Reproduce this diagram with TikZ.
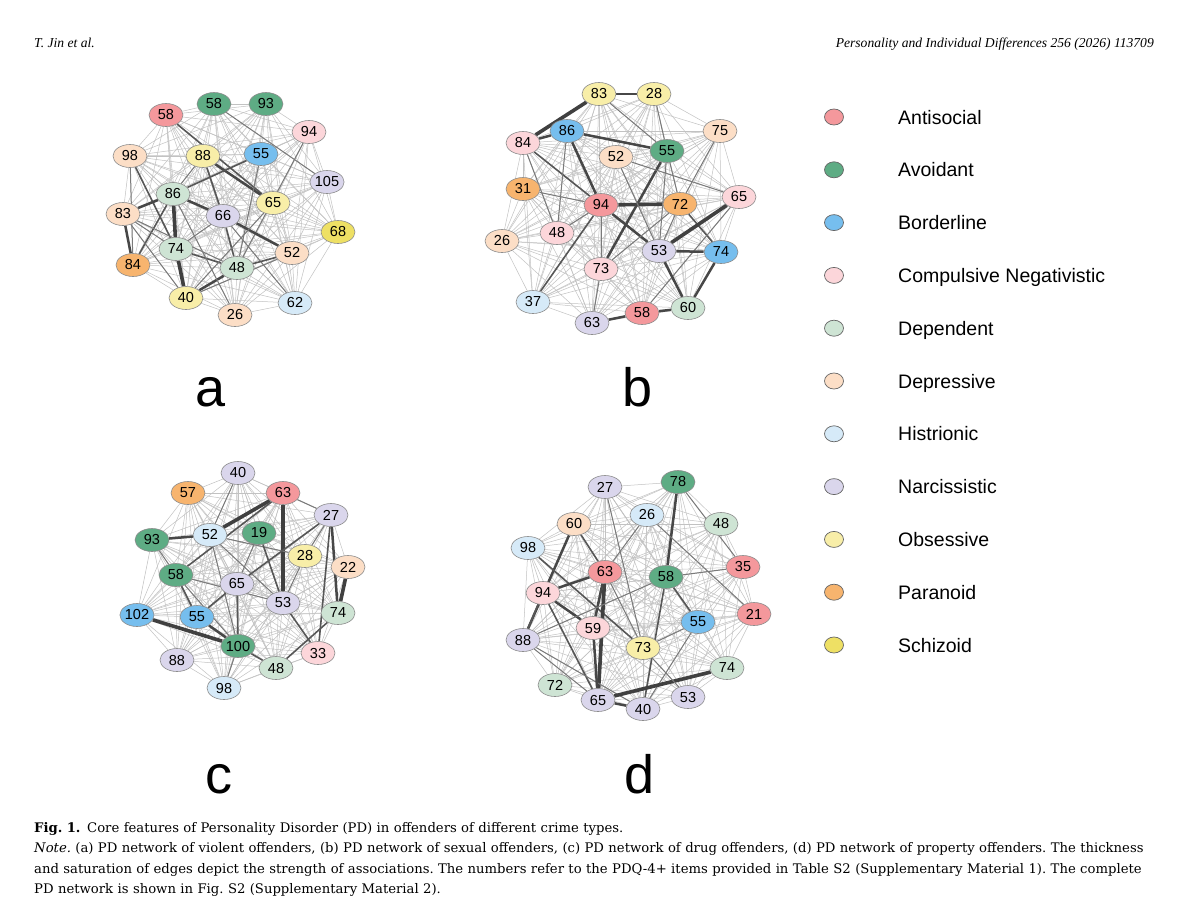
\documentclass[tikz,border=0pt]{standalone}
\usepackage{fontspec}
\setmainfont{DejaVu Serif}
\newfontfamily\arial{Liberation Sans}
\newfontfamily\hdrfont{Liberation Serif}
\usetikzlibrary{shapes.geometric}
\pgfdeclarelayer{bg}
\pgfsetlayers{bg,main}
\definecolor{cAnti}{RGB}{244,152,156}
\definecolor{cAvoi}{RGB}{94,172,132}
\definecolor{cBord}{RGB}{118,190,238}
\definecolor{cComp}{RGB}{252,214,218}
\definecolor{cDepe}{RGB}{206,228,212}
\definecolor{cDepr}{RGB}{252,222,198}
\definecolor{cHist}{RGB}{214,234,248}
\definecolor{cNarc}{RGB}{218,214,236}
\definecolor{cObse}{RGB}{248,238,168}
\definecolor{cPara}{RGB}{247,180,110}
\definecolor{cSchi}{RGB}{238,224,100}
\tikzset{
  pd/.style={ellipse, draw=black!45, line width=0.6pt, minimum width=34pt, minimum height=23pt, inner sep=0pt, font=\arial\fontsize{14.5}{14.5}\selectfont},
  faint/.style={draw=black!24, line width=0.5pt},
  e1/.style={draw=black!52, line width=1pt},
  e2/.style={draw=black!66, line width=1.6pt},
  e3/.style={draw=black!72, line width=2.5pt},
  e4/.style={draw=black!75, line width=3.6pt},
  plabel/.style={font=\arial\fontsize{54}{54}\selectfont, anchor=base, inner sep=0pt},
  lg/.style={ellipse, draw=black!60, line width=0.7pt, minimum width=19pt, minimum height=16pt, inner sep=0pt},
  lgt/.style={font=\arial\fontsize{19.5}{19.5}\selectfont, anchor=base west, inner sep=0pt},
  hdr/.style={font=\hdrfont\itshape\fontsize{13.6}{13.6}\selectfont, inner sep=0pt}
}
\newcommand\pdpanel[2]{%
  \foreach \nm/\lb/\px/\py/\cl in #2 {\node[pd,fill=\cl] (#1\nm) at (\px,\py) {\lb};}%
  \begin{pgfonlayer}{bg}%
  \foreach \ma/\la/\xa/\ya/\ca [count=\ia] in #2 {%
    \foreach \mb/\lbb/\xb/\yb/\cb [count=\ib] in #2 {%
      \ifnum\ib>\ia \draw[faint] (#1\ma) -- (#1\mb);\fi}}%
  \end{pgfonlayer}}
\newcommand\pdE[3]{\draw[#1] (#2) -- (#3);}
\def\alist{58r/58/166/115/cAnti, 58g/58/214/104/cAvoi, 93/93/266/104/cAvoi, 94/94/309/132/cComp,
 98/98/130/156/cDepr, 88/88/203/156/cObse, 55/55/261/154/cBord, 105/105/327/182/cNarc,
 86/86/173/194/cDepe, 65/65/273/203/cObse, 83/83/123/214/cDepr, 66/66/223/216/cNarc,
 68/68/338/232/cSchi, 74/74/176/249/cDepe, 52/52/292/253/cDepr, 84/84/133/265/cPara,
 48/48/237/268/cDepe, 40/40/186/298/cObse, 62/62/295/303/cHist, 26/26/235/315/cDepr}
\def\blist{83/83/599/94/cObse, 28/28/654/94/cObse, 86/86/567/131/cBord, 75/75/720/131/cDepr,
 84/84/523/143/cComp, 52/52/616/157/cDepr, 55/55/667/151/cAvoi, 31/31/523/189/cPara,
 94/94/601/205/cAnti, 72/72/680/204/cPara, 65/65/739/197/cComp, 26/26/502/241/cDepr,
 48/48/557/233/cComp, 53/53/659/251/cNarc, 74/74/721/252/cBord, 73/73/601/269/cComp,
 37/37/533/302/cHist, 63/63/592/323/cNarc, 58/58/642/313/cAnti, 60/60/688/308/cDepe}
\def\clist{40/40/238/473/cNarc, 57/57/188/493/cPara, 63/63/283/493/cAnti, 27/27/331/515/cNarc,
 93/93/152/540/cAvoi, 52/52/210/535/cHist, 19/19/259/533/cAvoi, 28/28/305/556/cObse,
 22/22/348/567/cDepr, 58/58/176/575/cAvoi, 65/65/237/584/cNarc, 53/53/283/603/cNarc,
 74/74/338/613/cDepe, 102/102/137/615/cBord, 55/55/197/617/cBord, 100/100/238/646/cAvoi,
 33/33/318/653/cComp, 88/88/177/660/cNarc, 48/48/276/668/cDepe, 98/98/224/688/cHist}
\def\dlist{27/27/605/487/cNarc, 78/78/678/482/cAvoi, 26/26/647/515/cHist, 60/60/574/524/cDepr,
 48/48/721/524/cDepe, 98/98/528/548/cHist, 63/63/605/572/cAnti, 58/58/666/577/cAvoi,
 35/35/743/567/cAnti, 94/94/543/593/cComp, 21/21/754/614/cAnti, 59/59/593/628/cComp,
 55/55/698/622/cBord, 88/88/523/640/cNarc, 73/73/643/648/cObse, 74/74/727/668/cDepe,
 72/72/555/685/cDepe, 53/53/688/697/cNarc, 65/65/598/700/cNarc, 40/40/643/709/cNarc}
\begin{document}
\begin{tikzpicture}[x=1pt,y=-1pt]
\begin{pgfonlayer}{bg}
\fill[white] (0,0) rectangle (1200,916);
\end{pgfonlayer}
\useasboundingbox (0,0) rectangle (1200,916);
% header
\node[hdr, anchor=base west] (h1) at (34,47) {T. Jin et al.};
\node[hdr, anchor=base east] (h2) at (1154,47) {Personality and Individual Differences 256 (2026) 113709};
% panels
\pdpanel{a}{\alist}
\pdpanel{b}{\blist}
\pdpanel{c}{\clist}
\pdpanel{d}{\dlist}
\begin{pgfonlayer}{bg}
% panel a
\pdE{e2}{a58r}{a65} \pdE{e3}{a88}{a65} \pdE{e1}{a58g}{a105} \pdE{e2}{a98}{a74}
\pdE{e1}{a98}{a84} \pdE{e2}{a88}{a66} \pdE{e1}{a88}{a86} \pdE{e2}{a55}{a86}
\pdE{e1}{a55}{a48} \pdE{e1}{a94}{a48} \pdE{e3}{a86}{a83} \pdE{e3}{a86}{a66}
\pdE{e4}{a86}{a74} \pdE{e2}{a86}{a84} \pdE{e4}{a74}{a40} \pdE{e3}{a83}{a84}
\pdE{e1}{a83}{a74} \pdE{e1}{a83}{a48} \pdE{e1}{a83}{a40} \pdE{e3}{a66}{a52}
\pdE{e2}{a66}{a48} \pdE{e1}{a66}{a62} \pdE{e1}{a66}{a74} \pdE{e2}{a74}{a48}
\pdE{e3}{a48}{a40} \pdE{e2}{a52}{a48} \pdE{e1}{a52}{a40} \pdE{e1}{a65}{a40}
\pdE{e1}{a26}{a86}
% panel b
\pdE{e3}{b83}{b28} \pdE{e4}{b83}{b84} \pdE{e3}{b84}{b86} \pdE{e3}{b86}{b55}
\pdE{e3}{b86}{b94} \pdE{e1}{b83}{b55} \pdE{e1}{b28}{b55} \pdE{e2}{b84}{b94}
\pdE{e1}{b84}{b48} \pdE{e4}{b94}{b72} \pdE{e3}{b94}{b53} \pdE{e2}{b94}{b37}
\pdE{e1}{b94}{b48} \pdE{e1}{b94}{b73} \pdE{e3}{b55}{b73} \pdE{e1}{b55}{b72}
\pdE{e1}{b55}{b53} \pdE{e1}{b52}{b65} \pdE{e1}{b52}{b53} \pdE{e2}{b72}{b74}
\pdE{e1}{b72}{b73} \pdE{e1}{b72}{b53} \pdE{e4}{b65}{b53} \pdE{e1}{b65}{b58}
\pdE{e1}{b75}{b72} \pdE{e3}{b53}{b74} \pdE{e3}{b53}{b60} \pdE{e3}{b74}{b60}
\pdE{e3}{b58}{b60} \pdE{e3}{b63}{b58} \pdE{e1}{b73}{b63} \pdE{e1}{b31}{b94}
\pdE{e1}{b86}{b48}
% panel c
\pdE{e4}{c63}{c52} \pdE{e2}{c63}{c58} \pdE{e4}{c63}{c53} \pdE{e1}{c63}{c27}
\pdE{e1}{c40}{c52} \pdE{e3}{c93}{c52} \pdE{e1}{c93}{c58} \pdE{e1}{c52}{c100}
\pdE{e1}{c52}{c53} \pdE{e1}{c52}{c28} \pdE{e2}{c19}{c53} \pdE{e1}{c19}{c65}
\pdE{e2}{c27}{c65} \pdE{e3}{c27}{c74} \pdE{e2}{c27}{c33} \pdE{e1}{c27}{c28}
\pdE{e4}{c22}{c74} \pdE{e1}{c58}{c53} \pdE{e2}{c58}{c55} \pdE{e1}{c58}{c100}
\pdE{e2}{c65}{c55} \pdE{e2}{c65}{c100} \pdE{e4}{c102}{c100} \pdE{e3}{c55}{c100}
\pdE{e2}{c100}{c48} \pdE{e1}{c100}{c98} \pdE{e2}{c53}{c33} \pdE{e2}{c74}{c48}
\pdE{e1}{c28}{c53}
% panel d
\pdE{e3}{d78}{d58} \pdE{e1}{d78}{d35} \pdE{e1}{d27}{d73} \pdE{e1}{d26}{d21}
\pdE{e1}{d26}{d63} \pdE{e3}{d60}{d88} \pdE{e2}{d60}{d63} \pdE{e2}{d98}{d73}
\pdE{e3}{d63}{d94} \pdE{e4}{d63}{d65} \pdE{e3}{d63}{d59} \pdE{e1}{d63}{d73}
\pdE{e3}{d94}{d59} \pdE{e2}{d94}{d65} \pdE{e2}{d94}{d88} \pdE{e1}{d58}{d35}
\pdE{e2}{d58}{d55} \pdE{e2}{d58}{d40} \pdE{e1}{d58}{d88} \pdE{e1}{d88}{d65}
\pdE{e1}{d88}{d40} \pdE{e3}{d59}{d65} \pdE{e1}{d73}{d55} \pdE{e1}{d55}{d40}
\pdE{e4}{d65}{d74} \pdE{e3}{d65}{d40} \pdE{e1}{d73}{d53}
\end{pgfonlayer}
% panel letters
\node[plabel] (la) at (211,406) {a};
\node[plabel] (lb) at (638,406) {b};
\node[plabel] (lc) at (219,793) {c};
\node[plabel] (ld) at (640,793) {d};
% legend
\foreach \lab/\cl [count=\k] in {Antisocial/cAnti, Avoidant/cAvoi, Borderline/cBord,
  Compulsive Negativistic/cComp, Dependent/cDepe, Depressive/cDepr, Histrionic/cHist,
  Narcissistic/cNarc, Obsessive/cObse, Paranoid/cPara, Schizoid/cSchi} {
  \pgfmathsetmacro\yy{117+52.8*(\k-1)}
  \node[lg, fill=\cl] (lc\k) at (834,\yy) {};
  \node[lgt] (lt\k) at (898,\yy+7) {\lab};
}
% caption
\node[anchor=north west, inner sep=0pt, text width=1120pt, align=left,
  font=\fontsize{13.2}{20.5}\selectfont\frenchspacing] (cap) at (34,822) {%
\textbf{Fig. 1.}\hspace{0.5em}Core features of Personality Disorder (PD) in offenders of different crime types.\\
\makebox[1120pt][s]{\textit{Note.} (a) PD network of violent offenders, (b) PD network of sexual offenders, (c) PD network of drug offenders, (d) PD network of property offenders. The thickness}\\
\makebox[1120pt][s]{and saturation of edges depict the strength of associations. The numbers refer to the PDQ-4+ items provided in Table S2 (Supplementary Material 1). The complete}\\
PD network is shown in Fig. S2 (Supplementary Material 2).};
\end{tikzpicture}
\end{document}
